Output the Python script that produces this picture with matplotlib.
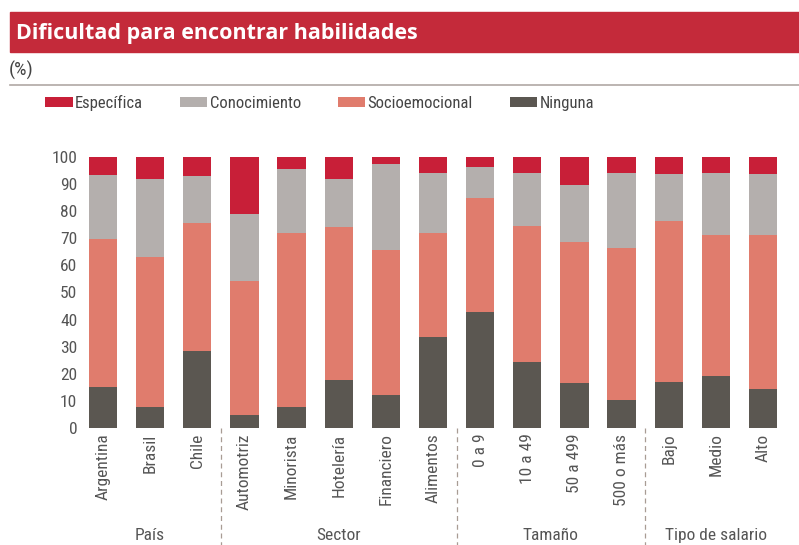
import matplotlib
matplotlib.use("agg")
import matplotlib.pyplot as plt
from matplotlib import font_manager
import numpy as np

# pick a narrow font if there is one
nombres = set(f.name for f in font_manager.fontManager.ttflist)
fuente = 'DejaVu Sans'
for f in ['Roboto Condensed', 'Liberation Sans Narrow', 'Open Sans Condensed', 'Noto Sans']:
    if f in nombres:
        fuente = f
        break
plt.rcParams['font.family'] = [fuente, 'DejaVu Sans']
titulo_fuente = 'Open Sans' if 'Open Sans' in nombres else fuente

categorias = ['Argentina', 'Brasil', 'Chile', 'Automotriz', 'Minorista', 'Hotelería',
              'Financiero', 'Alimentos', '0 a 9', '10 a 49', '50 a 499', '500 o más',
              'Bajo', 'Medio', 'Alto']
ninguna = [15.3, 7.7, 28.3, 4.8, 7.7, 17.8, 12.3, 33.7, 42.9, 24.3, 16.6, 10.4, 16.9, 19.3, 14.5]
socioemocional = [54.4, 55.5, 47.2, 49.6, 64.4, 56.3, 53.3, 38.1, 41.8, 50.3, 51.9, 56.2, 59.4, 52.1, 56.7]
conocimiento = [23.8, 28.5, 17.4, 24.7, 23.6, 17.9, 31.7, 22.3, 11.6, 19.5, 21.1, 27.5, 17.6, 22.7, 22.4]
especifica = [6.5, 8.3, 7.1, 20.9, 4.3, 8.0, 2.7, 5.9, 3.7, 5.9, 10.4, 5.9, 6.1, 5.9, 6.4]

grupos = ['País', 'Sector', 'Tamaño', 'Tipo de salario']
grupo_tam = [3, 5, 4, 3]

c_esp = '#c81f38'
c_con = '#b4afad'
c_soc = '#e07c6d'
c_nin = '#5b5751'
gris_txt = '#555555'

fig = plt.figure(figsize=(7.99, 5.45), dpi=100)

# title band
fig.patches.append(plt.Rectangle((10/799, 1-52/545), 1, 39.5/545, transform=fig.transFigure,
                                 color='#c42a3a', zorder=0))
fig.text(16/799, 1-33/545, 'Dificultad para encontrar habilidades', color='white',
         fontsize=15.5, fontweight='bold', va='center', ha='left', family=[titulo_fuente, 'DejaVu Sans'])
fig.text(9/799, 1-70/545, '(%)', color='#444444', fontsize=14, va='center', ha='left')
fig.add_artist(plt.Line2D([10/799, 1], [1-85/545, 1-85/545], color='#b0a8a4', lw=1.2))

ax = fig.add_axes([79.4/799, 1-428/545, (786.6-79.4)/799, 271/545])
x = np.arange(len(categorias))
ancho = 0.6
abajo = np.zeros(len(categorias))
series = [(ninguna, c_nin, 'Ninguna'), (socioemocional, c_soc, 'Socioemocional'),
          (conocimiento, c_con, 'Conocimiento'), (especifica, c_esp, 'Específica')]
barras = {}
for vals, col, nom in series:
    barras[nom] = ax.bar(x, vals, ancho, bottom=abajo, color=col, label=nom, linewidth=0)
    abajo = abajo + np.array(vals)

ax.set_xlim(-0.5, len(categorias) - 0.5)
ax.set_ylim(0, 100)
ax.set_yticks(range(0, 101, 10))
ax.set_xticks(x)
ax.set_xticklabels(categorias, rotation=90, va='top', ha='center')
ax.tick_params(axis='both', length=0, colors=gris_txt)
ax.tick_params(axis='y', pad=1.5, labelsize=12.5)
ax.tick_params(axis='x', pad=4, labelsize=12.5)
for s in ax.spines.values():
    s.set_visible(False)

# separators and group names
inicio = 0
for i, (g, n) in enumerate(zip(grupos, grupo_tam)):
    centro = inicio + (n - 1) / 2
    ax.text(centro, -0.395, g, transform=ax.get_xaxis_transform(), ha='center', va='center',
            fontsize=12.5, color=gris_txt)
    if i > 0:
        ax.plot([inicio - 0.5, inicio - 0.5], [0, -0.44], transform=ax.get_xaxis_transform(),
                color='#a89c94', lw=0.9, ls=(0, (4, 3)), clip_on=False)
    inicio += n

orden = ['Específica', 'Conocimiento', 'Socioemocional', 'Ninguna']
fig.legend([barras[k] for k in orden], orden, loc='center left', ncol=4,
           bbox_to_anchor=(30/799, 1-103/545), frameon=False, fontsize=12,
           handlelength=1.65, handleheight=0.55, handletextpad=0.15, columnspacing=2.2,
           labelcolor='#444444')

fig.savefig('out.png', dpi=100)
